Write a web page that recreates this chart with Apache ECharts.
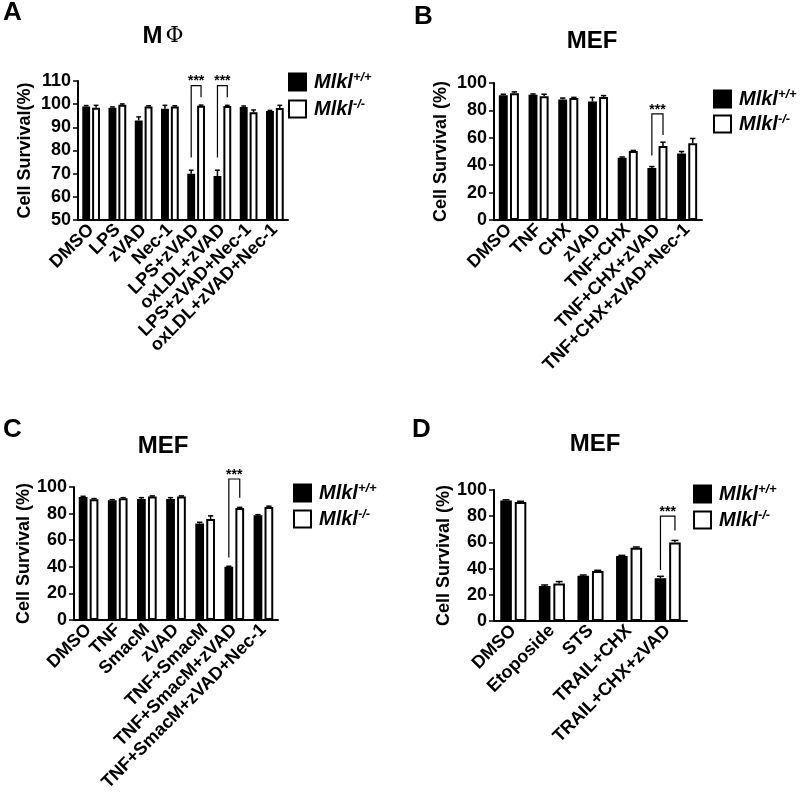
<!DOCTYPE html>
<html>
<head>
<meta charset="utf-8">
<script src="https://cdn.jsdelivr.net/npm/echarts@6/dist/echarts.min.js"></script>
<style>
html,body{margin:0;padding:0;background:#fff}
#main{width:800px;height:805px}
</style>
</head>
<body>
<div id="main"></div>
<script>
// A - macrophages
const aCats = ['DMSO','LPS','zVAD','Nec-1','LPS+zVAD','oxLDL+zVAD','LPS+zVAD+Nec-1','oxLDL+zVAD+Nec-1'];
const aWT = [99, 98.5, 93, 98, 70, 69, 98.8, 97];
const aWTErr = [0.4, 0.3, 1.5, 1.5, 1.5, 2.5, 0.4, 0.3];
const aKO = [98.5, 99.8, 99, 99, 99.3, 99.2, 96.5, 98.3];
const aKOErr = [1, 0.3, 0.3, 0.3, 0.3, 0.3, 1, 1.2];
const aSig = [[4, 77, 103, 108], [5, 77, 103, 108]]; // [category, left end, right end, top]

// B - MEF, TNF
const bCats = ['DMSO','TNF','CHX','zVAD','TNF+CHX','TNF+CHX+zVAD','TNF+CHX+zVAD+Nec-1'];
const bWT = [91, 91.5, 88, 86.5, 45.5, 38, 48.5];
const bWTErr = [0.8, 0.5, 1, 3, 0.5, 1, 1.5];
const bKO = [92.5, 90.3, 89, 89.8, 50.3, 54, 56];
const bKOErr = [1, 1.5, 0.5, 1, 0.5, 2.8, 3.5];
const bSig = [[5, 47, 62, 77.5]];

// C - MEF, SmacM
const cCats = ['DMSO','TNF','SmacM','zVAD','TNF+SmacM','TNF+SmacM+zVAD','TNF+SmacM+zVAD+Nec-1'];
const cWT = [92.5, 90, 91, 91, 72.5, 40, 78.8];
const cWTErr = [0.5, 0.5, 1, 1, 1, 0.4, 0.4];
const cKO = [90.8, 91.5, 92.8, 92.8, 76, 84.2, 85];
const cKOErr = [0.5, 0.5, 0.5, 0.5, 2.3, 0.5, 0.6];
const cSig = [[5, 47, 92, 106]];

// D - MEF, apoptosis stimuli
const dCats = ['DMSO','Etoposide','STS','TRAIL+CHX','TRAIL+CHX+zVAD'];
const dWT = [92, 26.7, 34.6, 49.6, 32.6];
const dWTErr = [0.5, 0.8, 0.5, 0.5, 1.5];
const dKO = [90.8, 28.6, 38.2, 56, 60];
const dKOErr = [0.6, 1.5, 0.5, 0.5, 1.5];
const dSig = [[4, 39, 69, 80]];

const WT = 'Mlkl+/+';
const KO = 'Mlkl-/-';
const FONT = 'Arial, "Liberation Sans", Helvetica, sans-serif';
const BAR_W = 0.3;
const BAR_GAP = 0.25;
const OFFSET = BAR_W * (1 + BAR_GAP) / 2;

const panels = [
  {letter:'A', title:'{m|M}{p|Φ}', cats:aCats, wt:aWT, wtErr:aWTErr, ko:aKO, koErr:aKOErr, sig:aSig,
   yName:'Cell Survival(%)', min:50, max:110, interval:10, nameGap:44,
   grid:{left:78, top:81, width:210, height:139}, lx:3, ly:0, tx:163, ty:24, leg:[288, 71, 6]},
  {letter:'B', title:'MEF', cats:bCats, wt:bWT, wtErr:bWTErr, ko:bKO, koErr:bKOErr, sig:bSig,
   yName:'Cell Survival (%)', min:0, max:100, interval:20, nameGap:44,
   grid:{left:494, top:83, width:208, height:137}, lx:414, ly:4, tx:592, ty:29, leg:[713, 88, 4]},
  {letter:'C', title:'MEF', cats:cCats, wt:cWT, wtErr:cWTErr, ko:cKO, koErr:cKOErr, sig:cSig,
   yName:'Cell Survival (%)', min:0, max:100, interval:20, nameGap:36,
   grid:{left:74, top:487, width:204, height:133}, lx:3, ly:417, tx:163, ty:434, leg:[293, 482, 5]},
  {letter:'D', title:'MEF', cats:dCats, wt:dWT, wtErr:dWTErr, ko:dKO, koErr:dKOErr, sig:dSig,
   yName:'Cell Survival (%)', min:0, max:100, interval:20, nameGap:41,
   grid:{left:494, top:490, width:193, height:131}, lx:412, ly:417, tx:595, ty:432, leg:[693, 483, 5]}
];

function renderErr(params, api) {
  const idx = api.value(0);
  const v = api.value(1);
  const e = api.value(2);
  const side = api.value(3);
  const band = api.size([1, 0])[0];
  const base = api.coord([idx, v]);
  const top = api.coord([idx, v + e]);
  const x = base[0] + side * band * OFFSET;
  const cap = band * BAR_W * 0.3;
  const st = {stroke:'#000', lineWidth:1.5};
  return {type:'group', children:[
    {type:'line', shape:{x1:x, y1:base[1], x2:x, y2:top[1]}, style:st},
    {type:'line', shape:{x1:x - cap, y1:top[1], x2:x + cap, y2:top[1]}, style:st}
  ]};
}

function renderSig(params, api) {
  const idx = api.value(0);
  const band = api.size([1, 0])[0];
  const pl = api.coord([idx, api.value(1)]);
  const pr = api.coord([idx, api.value(2)]);
  const pt = api.coord([idx, api.value(3)]);
  const xl = pt[0] - band * OFFSET;
  const xr = pt[0] + band * OFFSET;
  return {type:'group', children:[
    {type:'polyline', shape:{points:[[xl, pl[1]], [xl, pt[1]], [xr, pt[1]], [xr, pr[1]]]},
     style:{stroke:'#000', lineWidth:1.2, fill:null}},
    {type:'text', x:pt[0], y:pt[1] + 3,
     style:{text:'***', align:'center', verticalAlign:'bottom', font:'bold 14px ' + FONT, fill:'#000'}}
  ]};
}

const option = {
  animation:false,
  backgroundColor:'#fff',
  title:[], legend:[], grid:[], xAxis:[], yAxis:[], series:[]
};

panels.forEach((p, i) => {
  option.title.push({text:p.letter, left:p.lx, top:p.ly, padding:0,
    textStyle:{fontFamily:FONT, fontSize:26, fontWeight:'bold', color:'#000'}});
  option.title.push({text:p.title, left:p.tx, top:p.ty, padding:0, textAlign:'center',
    textStyle:{fontFamily:FONT, fontSize:24, fontWeight:'bold', color:'#000',
      rich:{m:{fontFamily:FONT, fontSize:24, fontWeight:'bold', color:'#000'},
            p:{fontFamily:'"DejaVu Serif", "Liberation Serif", serif', fontSize:22, fontWeight:'normal', color:'#000', padding:[0,0,0,3]}}}});
  option.legend.push({
    data:[WT, KO], orient:'vertical', left:p.leg[0], top:p.leg[1], padding:0,
    itemGap:p.leg[2], itemWidth:17, itemHeight:17, icon:'rect', selectedMode:false,
    formatter: n => n === WT ? '{n|Mlkl}{s|+/+}' : '{n|Mlkl}{s|-/-}',
    textStyle:{rich:{
      n:{fontFamily:FONT, fontSize:20, fontWeight:'bold', fontStyle:'italic', color:'#000', padding:[0,0,0,3]},
      s:{fontFamily:FONT, fontSize:13, fontWeight:'bold', fontStyle:'italic', color:'#000', verticalAlign:'top', padding:[0,0,9,0]}
    }}
  });
  option.grid.push(Object.assign({containLabel:false}, p.grid));
  option.xAxis.push({
    type:'category', gridIndex:i, data:p.cats,
    axisLine:{lineStyle:{color:'#000', width:2}},
    axisTick:{alignWithLabel:true, length:5, lineStyle:{color:'#000', width:1.5}},
    axisLabel:{interval:0, rotate:45, margin:7, color:'#000', fontFamily:FONT, fontSize:18, fontWeight:'bold'}
  });
  option.yAxis.push({
    type:'value', gridIndex:i, min:p.min, max:p.max, interval:p.interval,
    name:p.yName, nameLocation:'middle', nameGap:p.nameGap, nameRotate:90,
    nameTextStyle:{fontFamily:FONT, fontSize:18, fontWeight:'bold', color:'#000'},
    splitLine:{show:false},
    axisLine:{show:true, lineStyle:{color:'#000', width:2}},
    axisTick:{show:true, length:5, lineStyle:{color:'#000', width:1.5}},
    axisLabel:{margin:7, color:'#000', fontFamily:FONT, fontSize:18, fontWeight:'bold'}
  });
  option.series.push({
    name:WT, type:'bar', xAxisIndex:i, yAxisIndex:i, data:p.wt,
    barWidth:(BAR_W * 100) + '%', barGap:(BAR_GAP * 100) + '%',
    itemStyle:{color:'#000', borderColor:'#000', borderWidth:1.5}
  });
  option.series.push({
    name:KO, type:'bar', xAxisIndex:i, yAxisIndex:i, data:p.ko,
    barWidth:(BAR_W * 100) + '%', barGap:(BAR_GAP * 100) + '%',
    itemStyle:{color:'#fff', borderColor:'#000', borderWidth:2}
  });
  option.series.push({
    type:'custom', xAxisIndex:i, yAxisIndex:i, z:5, clip:false, renderItem:renderErr,
    data:p.wt.map((v, j) => [j, v, p.wtErr[j], -1])
  });
  option.series.push({
    type:'custom', xAxisIndex:i, yAxisIndex:i, z:5, clip:false, renderItem:renderErr,
    data:p.ko.map((v, j) => [j, v, p.koErr[j], 1])
  });
  option.series.push({
    type:'custom', xAxisIndex:i, yAxisIndex:i, z:6, clip:false, renderItem:renderSig,
    data:p.sig
  });
});

const chart = echarts.init(document.getElementById('main'), null, {renderer:'canvas'});
chart.setOption(option);
</script>
</body>
</html>
